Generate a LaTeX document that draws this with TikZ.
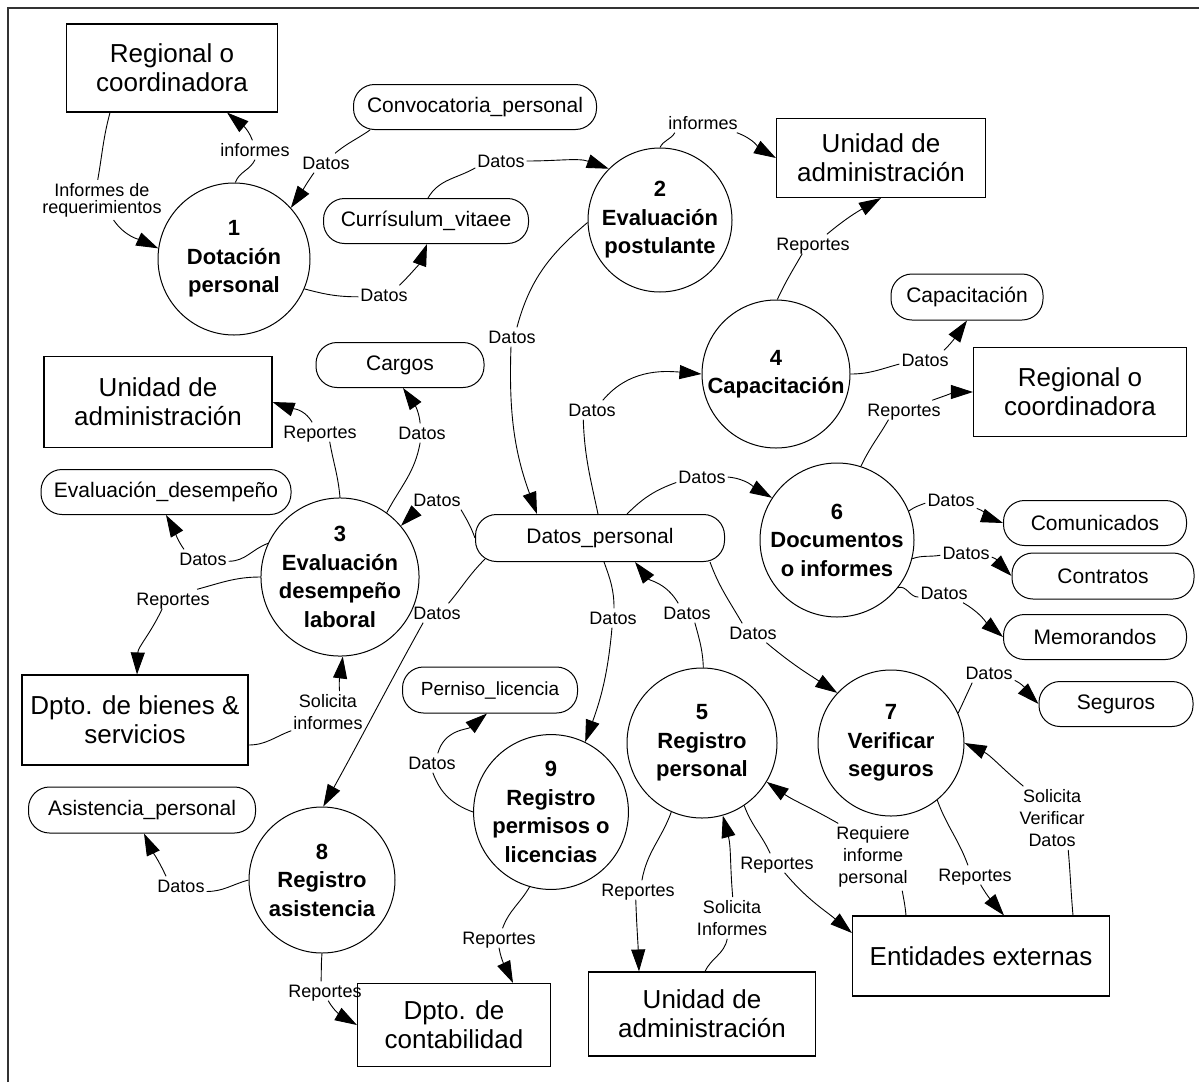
\documentclass[tikz,border=0pt]{standalone}
\usepackage{fontspec}
\setmainfont{Liberation Sans}
\usetikzlibrary{arrows.meta}

\tikzset{
  proc/.style={circle, draw, line width=1pt, inner sep=0pt, align=center,
    font=\fontsize{22}{28.5}\selectfont\bfseries},
  ent/.style={rectangle, draw, line width=1.1pt, inner sep=0pt, align=center,
    font=\fontsize{26}{29}\selectfont},
  store/.style={rectangle, rounded corners=21pt, draw, line width=1pt, inner sep=0pt,
    font=\fontsize{21}{25}\selectfont},
  lbl/.style={inner xsep=2pt, inner ysep=3pt, text height=13pt, text depth=0pt,
    font=\fontsize{18}{22}\selectfont},
  mlbl/.style={inner xsep=2pt, inner ysep=3pt, align=center,
    font=\fontsize{18}{22}\selectfont},
  conn/.style={line width=0.9pt},
  flow/.style={line width=0.9pt, -{Triangle[length=22pt,width=14pt]}},
}

\begin{document}
\begin{tikzpicture}[x=1pt,y=1pt]
\useasboundingbox (0,0) rectangle (1199,-1082);

% frame edges
\draw[line width=1.2pt, black!80] (8,-1082) -- (8,-8) -- (1199,-8);

% external entities
\node[ent, minimum width=211pt, minimum height=88pt] (E1) at (172,-68) {Regional o\\coordinadora};
\node[ent, minimum width=209pt, minimum height=79pt] (E2) at (881,-158) {Unidad de\\administración};
\node[ent, minimum width=213pt, minimum height=89pt] (E3) at (1080,-392) {Regional o\\coordinadora};
\node[ent, minimum width=228pt, minimum height=91pt] (E4) at (158,-402) {Unidad de\\administración};
\node[ent, minimum width=226pt, minimum height=90pt] (E5) at (135,-720) {Dpto. de bienes \&\\servicios};
\node[ent, minimum width=193pt, minimum height=83pt] (E6) at (454,-1025) {Dpto. de\\contabilidad};
\node[ent, minimum width=227pt, minimum height=84pt] (E7) at (702,-1014) {Unidad de\\administración};
\node[ent, minimum width=257pt, minimum height=80pt] (E8) at (981,-956) {Entidades externas};

% data stores
\node[store, minimum width=243pt, minimum height=45pt] (S1) at (475,-107) {Convocatoria\_personal};
\node[store, minimum width=205pt, minimum height=45pt] (S2) at (426,-221) {Currísulum\_vitaee};
\node[store, minimum width=152pt, minimum height=46pt] (S3) at (967,-297) {Capacitación};
\node[store, minimum width=168pt, minimum height=45pt] (S4) at (400,-365) {Cargos};
\node[store, minimum width=250pt, minimum height=45pt] (S5) at (166,-492) {Evaluación\_desempeño};
\node[store, minimum width=249pt, minimum height=47pt] (S6) at (600,-538) {Datos\_personal};
\node[store, minimum width=183pt, minimum height=45pt] (S7) at (1095,-523) {Comunicados};
\node[store, minimum width=182pt, minimum height=46pt] (S8) at (1103,-576) {Contratos};
\node[store, minimum width=183pt, minimum height=45pt] (S9) at (1095,-637) {Memorandos};
\node[store, minimum width=154pt, minimum height=45pt] (S10) at (1116,-704) {Seguros};
\node[store, minimum width=175pt, minimum height=46pt, font=\fontsize{19}{23}\selectfont] (S11) at (490,-690) {Perniso\_licencia};
\node[store, minimum width=227pt, minimum height=46pt] (S12) at (142,-810) {Asistencia\_personal};

% processes
\node[proc, minimum size=152pt] (P1) at (234,-259) {1\\Dotación\\personal};
\node[proc, minimum size=144pt] (P2) at (660,-220) {2\\Evaluación\\postulante};
\node[proc, minimum size=148pt] (P3) at (340,-577) {3\\Evaluación\\desempeño\\laboral};
\node[proc, minimum size=148pt] (P4) at (776,-374) {4\\Capacitación};
\node[proc, minimum size=150pt] (P5) at (702,-743) {5\\Registro\\personal};
\node[proc, minimum size=154pt] (P6) at (837,-540) {6\\Documentos\\o informes};
\node[proc, minimum size=146pt] (P7) at (891,-743) {7\\Verificar\\seguros};
\node[proc, minimum size=146pt] (P8) at (322,-880) {8\\Registro\\asistencia};
\node[proc, minimum size=150pt] (P9) at (551,-812) {9\\Registro\\permisos o\\licencias};

% flow labels
\node[lbl] (L1) at (255,-150) {informes};
\node[mlbl, font=\fontsize{18}{17}\selectfont] (L2) at (102,-200) {Informes de\\requerimientos};
\node[lbl] (L3) at (326,-163) {Datos};
\node[lbl] (L4) at (384,-295) {Datos};
\node[lbl] (L5) at (501,-161) {Datos};
\node[lbl] (L6) at (703,-123) {informes};
\node[lbl] (L7) at (512,-337) {Datos};
\node[lbl] (L8) at (813,-244) {Reportes};
\node[lbl] (L9) at (592,-410) {Datos};
\node[lbl] (L10) at (925,-360) {Datos};
\node[lbl] (L11) at (904,-410) {Reportes};
\node[lbl] (L12) at (702,-477) {Datos};
\node[lbl] (L13) at (437,-500) {Datos};
\node[lbl] (L14) at (422,-433) {Datos};
\node[lbl] (L15) at (320,-432) {Reportes};
\node[lbl] (L16) at (203,-559) {Datos};
\node[lbl] (L17) at (173,-599) {Reportes};
\node[mlbl] (L18) at (328,-712) {Solicita\\informes};
\node[lbl] (L19) at (437,-613) {Datos};
\node[lbl] (L20) at (613,-618) {Datos};
\node[lbl] (L21) at (687,-613) {Datos};
\node[lbl] (L22) at (753,-633) {Datos};
\node[lbl] (L23) at (951,-500) {Datos};
\node[lbl] (L24) at (966,-553) {Datos};
\node[lbl] (L25) at (944,-593) {Datos};
\node[lbl] (L26) at (989,-673) {Datos};
\node[mlbl] (L27) at (1052,-818) {Solicita\\Verificar\\Datos};
\node[lbl] (L28) at (975,-875) {Reportes};
\node[mlbl] (L29) at (873,-857) {Requiere\\informe\\personal};
\node[lbl] (L30) at (777,-863) {Reportes};
\node[lbl] (L31) at (638,-890) {Reportes};
\node[mlbl] (L32) at (732,-918) {Solicita\\Informes};
\node[lbl] (L33) at (432,-763) {Datos};
\node[lbl] (L34) at (499,-938) {Reportes};
\node[lbl] (L35) at (181,-886) {Datos};
\node[lbl] (L36) at (325,-991) {Reportes};

% flows around process 1
\draw[conn] (P1.89) to[out=70,in=-115] (L1.-90);
\draw[flow] (L1.105) to[out=110,in=-40] ([xshift=55pt]E1.south);
\draw[conn] ([xshift=-62pt]E1.south) to[out=-105,in=80] (L2.102);
\draw[flow] (L2.-60) to[out=-55,in=155] (P1.172);
\draw[conn] ([xshift=-105pt]S1.south) to[out=-145,in=40] (L3.47);
\draw[flow] (L3.-141) to[out=-125,in=55] (P1.42);
\draw[conn] (P1.-23) to[out=-15,in=180] (L4.184);
\draw[flow] (L4.32) to[out=45,in=-110] ([xshift=1pt]S2.south);

% flows around process 2
\draw[conn] ([xshift=2pt]S2.north) to[out=60,in=-150] (L5.195);
\draw[flow] (L5.0) to[out=0,in=160] (P2.135);
\draw[conn] (P2.90) to[out=65,in=-120] (L6.-161);
\draw[flow] (L6.-16) to[out=-20,in=150] (E2.west);
\draw[conn] (P2.182) to[out=-140,in=75] (L7.63);
\draw[flow] (L7.-96) to[out=-92,in=110] ([xshift=-63pt]S6.north);

% flows around process 4
\draw[conn] (P4.89) to[out=65,in=-120] (L8.-138);
\draw[flow] (L8.35) to[out=40,in=-150] (E2.south);
\draw[conn] ([xshift=-2pt]S6.north) to[out=102,in=-88] (L9.-132);
\draw[flow] (L9.42) to[out=50,in=175] (P4.180);
\draw[conn] (P4.0) to[out=0,in=195] (L10.189);
\draw[flow] (L10.27) to[out=45,in=-125] (S3.south);

% flows around process 6
\draw[conn] (P6.72) to[out=65,in=-120] (L11.-148);
\draw[flow] (L11.19) to[out=20,in=180] (E3.west);
\draw[conn] ([xshift=27pt]S6.north) to[out=45,in=-160] (L12.192);
\draw[flow] (L12.0) to[out=-5,in=150] (P6.147);
\draw[conn] (P6.22) to[out=35,in=200] (L23.187);
\draw[flow] (L23.-18) to[out=-20,in=160] (S7.west);
\draw[conn] (P6.-14) to[out=20,in=190] (L24.185);
\draw[flow] (L24.-9) to[out=-20,in=135] (S8.west);
\draw[conn] (P6.-38) to[out=20,in=180] (L25.189);
\draw[flow] (L25.-27) to[out=-30,in=140] (S9.west);

% flows around process 3
\draw[conn] (S6.west) to[out=110,in=-60] (L13.-22);
\draw[flow] (L13.-158) to[out=-130,in=45] (P3.40);
\draw[conn] (P3.54) to[out=62,in=-100] (L14.-101);
\draw[flow] (L14.101) to[out=95,in=-55] ([xshift=3pt]S4.south);
\draw[conn] (P3.90) to[out=95,in=-80] (L15.-45);
\draw[flow] (L15.129) to[out=120,in=-20] (E4.east);
\draw[conn] (P3.155) to[out=-160,in=0] (L16.-5);
\draw[flow] (L16.153) to[out=125,in=-60] (S5.south);
\draw[conn] (P3.180) to[out=180,in=15] (L17.22);
\draw[flow] (L17.-138) to[out=-115,in=88] ([xshift=2pt]E5.north);
\draw[conn] ([yshift=-25pt]E5.east) to[out=0,in=200] (L18.-153);
\draw[flow] (L18.61) to[out=95,in=-97] (P3.-88);

% flows from the personal data store
\draw[conn] ([xshift=10pt,yshift=3pt]S6.south west) to[out=-135,in=50] (L19.40);
\draw[flow] (L19.-145) to[out=-119,in=61] (P8.89);
\draw[conn] ([xshift=4pt]S6.south) to[out=-70,in=90] (L20.84);
\draw[flow] (L20.-96) to[out=-95,in=70] (P9.64);
\draw[conn] (P5.89) to[out=92,in=-75] (L21.-51);
\draw[flow] (L21.132) to[out=120,in=-52] ([xshift=35pt]S6.south);
\draw[conn] ([xshift=110pt]S6.south) to[out=-70,in=120] (L22.138);
\draw[flow] (L22.-36) to[out=-40,in=147] (P7.137);

% flows around process 7
\draw[conn] (P7.24) to[out=65,in=-115] (L26.-150);
\draw[flow] (L26.-16) to[out=-25,in=135] (S10.west);
\draw[conn] ([xshift=92pt]E8.north) to[out=95,in=-85] (L27.-63);
\draw[flow] (L27.132) to[out=140,in=-25] (P7.0);
\draw[conn] (P7.-51) to[out=-70,in=110] (L28.126);
\draw[flow] (L28.-60) to[out=-60,in=130] ([xshift=23pt]E8.north);

% flows around process 5
\draw[conn] ([xshift=-75pt]E8.north) to[out=95,in=-80] (L29.-49);
\draw[flow] (L29.136) to[out=150,in=-35] (P5.-31);
\draw[conn] (P5.-56) to[out=-70,in=115] (L30.125);
\draw[flow] (L30.-52) to[out=-50,in=140] ([yshift=23pt]E8.west);
\draw[conn] (P5.-114) to[out=-110,in=80] (L31.68);
\draw[flow] (L31.-103) to[out=-88,in=92] ([xshift=-63pt]E7.north);
\draw[conn] ([xshift=3pt]E7.north) to[out=65,in=-100] (L32.-103);
\draw[flow] (L32.88) to[out=95,in=-75] (P5.-74);

% flows around processes 9 and 8
\draw[conn] (P9.180) to[out=160,in=-70] (L33.-85);
\draw[flow] (L33.59) to[out=75,in=-140] ([xshift=-3pt]S11.south);
\draw[conn] (P9.-106) to[out=-120,in=70] (L34.70);
\draw[flow] (L34.-90) to[out=-80,in=115] ([xshift=59pt]E6.north);
\draw[conn] (P8.180) to[out=-165,in=0] (L35.-12);
\draw[flow] (L35.147) to[out=115,in=-65] ([xshift=2pt]S12.south);
\draw[conn] (P8.-90) to[out=-95,in=88] (L36.112);
\draw[flow] (L36.-72) to[out=-60,in=150] (E6.west);
\end{tikzpicture}
\end{document}
